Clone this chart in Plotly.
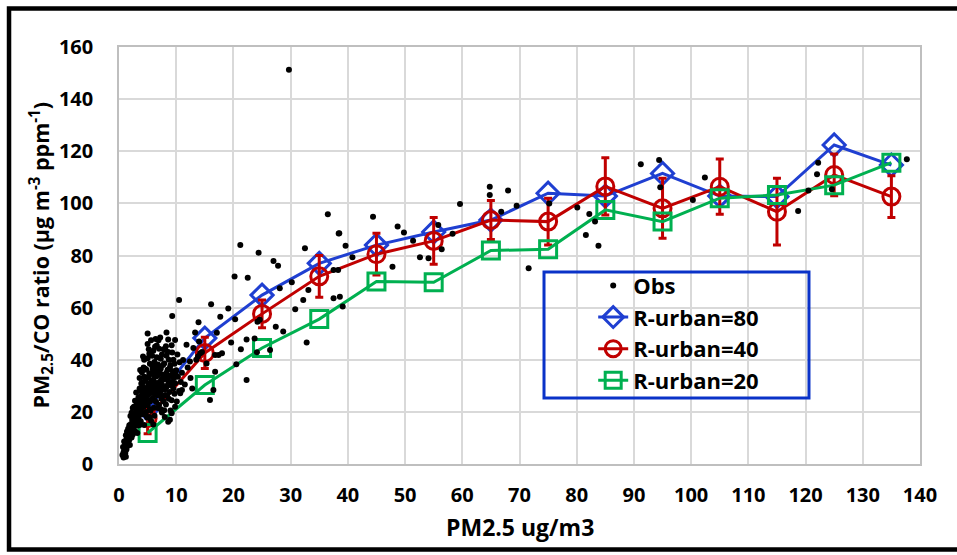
import plotly.graph_objects as go

# ---------------- data ----------------
model_x = [5, 15, 25, 35, 45, 55, 65, 75, 85, 95, 105, 115, 125, 135]
r80 = [21, 48.3, 64.8, 77, 84, 89, 93.6, 103.9, 102.8, 111.5, 102.8, 102.6, 122.4, 114.7]
r40 = [17.6, 42.6, 57.6, 72, 80.5, 85.6, 93.6, 93, 106.5, 98.1, 106.4, 96.8, 110.9, 102.6]
r40_err = [6, 6, 5.3, 8, 8, 9, 7.5, 9, 11, 11.5, 10.6, 12.8, 8, 8]
r20 = [11.9, 30.3, 44.5, 55.6, 70, 69.7, 81.9, 82.4, 97.5, 93, 102, 103.2, 107, 115.6]

obs_x = [
    0.6, 0.8, 0.9, 1.0, 1.1, 1.2, 0.7, 1.3, 1.4, 1.5, 1.0, 1.2, 0.9, 1.4, 1.6,
    1.7, 1.8, 1.9, 2.0, 2.1, 2.2, 2.3, 2.4, 2.5, 1.8, 2.0, 2.2, 2.4, 2.6, 1.9,
    2.7, 2.8, 2.9, 3.0, 3.1, 3.2, 3.3, 3.4, 3.5, 2.8, 3.0, 3.2, 3.4, 3.6, 3.3, 2.9, 3.1, 3.5,
    3.7, 3.8, 3.9, 4.0, 4.1, 4.2, 4.3, 4.4, 4.5, 3.8, 4.0, 4.2, 4.4, 4.6, 3.9, 4.1, 4.3, 4.5, 4.7, 4.8,
    4.9, 5.0, 5.1, 5.2, 5.3, 5.4, 5.5, 4.8, 5.0, 5.2, 5.4, 5.6, 4.9, 5.1, 5.3, 5.5, 5.7, 5.8, 5.0, 5.6,
    5.9, 6.0, 6.1, 6.2, 6.3, 6.4, 6.5, 6.0, 6.2, 6.4, 6.6, 5.9, 6.1, 6.3, 6.5, 6.7, 6.8, 6.0,
    6.9, 7.0, 7.1, 7.2, 7.3, 7.4, 7.5, 7.0, 7.2, 7.4, 7.6, 6.9, 7.1, 7.3, 7.5, 7.7, 7.8,
    7.9, 8.0, 8.1, 8.2, 8.3, 8.4, 8.5, 8.0, 8.2, 8.4, 8.6, 7.9, 8.1, 8.3, 8.7,
    8.8, 8.9, 9.0, 9.1, 9.2, 9.3, 9.4, 9.0, 9.2, 9.5, 8.9, 9.6,
    9.7, 9.8, 10.0, 10.2, 10.3, 10.5, 10.1, 10.6, 10.8, 11.0,
    11.5, 12.0, 12.5, 13.0, 13.5, 14.0, 12.8, 11.8, 13.3, 14.5,
    1.1, 1.3, 1.5, 1.7, 1.9, 2.1, 2.3, 2.5, 2.7, 2.9, 3.1, 3.3, 3.5, 3.7, 3.9, 4.1, 4.3,
    4.5, 4.7, 4.9, 5.1, 5.3, 5.5, 5.7, 5.9, 6.1, 6.3, 6.5, 6.7, 6.9, 7.1, 7.3, 7.5, 7.7,
    7.9, 8.1, 8.3, 8.5, 8.7, 8.9, 9.1, 9.3, 9.5, 9.7, 9.9, 2.6, 3.8, 4.6, 5.2, 5.8, 6.6,
    7.2, 4.4, 3.6, 2.4, 1.6, 6.2, 6.8, 7.6, 5.4, 4.6, 3.6, 7.8, 8.6, 6.4, 5.6, 1.2, 0.8,
    36.5, 38.4, 39.6, 32.5, 21.2, 24.4, 27.0, 27.8, 20.2, 22.5, 10.5, 9.3, 5.0, 16.1, 19.1,
    13.9, 20.3, 28.1, 30.2, 32.2, 33.1, 37.5, 38.6, 39.1, 30.8, 28.7, 32.8, 27.4, 24.6, 24.2,
    22.3, 21.3, 23.7, 24.1, 26.4, 22.3, 20.5, 17.1, 18.0, 16.8, 19.6, 17.7, 8.3, 8.6, 9.8,
    13.8, 14.2, 11.2, 12.4, 16.8, 17.4, 15.3, 16.5, 15.9, 9.2, 9.8, 10.7, 11.0, 8.6, 4.2, 3.7,
    64.8, 64.8, 68.0, 66.8, 69.5, 59.6, 58.3, 56.4, 55.8, 54.1, 52.6, 49.8, 48.7, 51.4, 44.4,
    38.5, 40.8, 47.8, 37.5, 38.3, 71.6, 75.2, 80.1, 82.2, 83.2, 81.6, 83.8, 91.2, 94.4,
    94.6, 102.4, 100.3, 118.7, 120.5, 122.0, 122.2, 124.6, 137.7, 29.7,
]
obs_y = [
    3.5, 4.5, 6.0, 5.0, 7.5, 8.0, 6.5, 9.5, 6.8, 10.5, 3.2, 11.0, 8.6, 12.5, 8.2,
    11.6, 9.4, 13.8, 12.1, 15.3, 10.2, 17.0, 13.5, 16.2, 14.9, 18.4, 19.7, 11.3, 14.4, 7.3,
    18.8, 12.7, 21.3, 16.7, 23.6, 19.2, 14.8, 25.5, 21.0, 24.3, 27.4, 11.9, 17.6, 29.0, 22.5, 15.5, 20.2, 18.6,
    24.4, 16.4, 27.9, 21.8, 31.3, 19.1, 26.0, 33.5, 23.3, 20.6, 35.2, 29.6, 15.0, 27.4, 30.9, 24.9, 37.0, 31.8, 20.0, 25.6,
    29.0, 22.5, 33.3, 26.8, 18.0, 38.5, 30.6, 36.2, 40.6, 31.0, 24.0, 34.9, 17.8, 27.6, 42.3, 20.4, 28.8, 37.7, 46.0, 16.6,
    25.2, 32.0, 21.6, 39.1, 28.0, 35.4, 23.8, 43.5, 18.5, 30.5, 41.0, 36.5, 27.1, 45.0, 33.6, 26.4, 38.2, 15.2,
    30.0, 22.6, 35.8, 27.5, 40.4, 32.4, 19.8, 44.2, 37.0, 25.0, 29.2, 47.5, 31.5, 21.0, 42.0, 34.2, 24.0,
    38.6, 28.6, 33.0, 22.8, 41.5, 30.0, 36.2, 18.0, 45.2, 26.2, 31.8, 20.6, 43.7, 35.0, 40.0,
    27.6, 33.8, 38.0, 30.2, 24.5, 42.8, 35.6, 20.5, 45.6, 29.0, 17.0, 33.0,
    38.5, 31.0, 36.0, 42.0, 33.5, 28.0, 24.0, 39.0, 31.5, 35.0,
    30.5, 37.0, 33.0, 44.5, 40.0, 47.0, 29.0, 45.8, 50.5, 43.0,
    4.2, 5.6, 7.0, 9.0, 10.5, 12.8, 14.2, 12.0, 15.8, 18.0, 17.2, 19.8, 23.5, 20.8, 22.8, 27.0, 22.0,
    28.6, 32.8, 25.0, 30.0, 34.5, 27.2, 32.0, 29.5, 34.0, 31.2, 37.5, 29.0, 34.2, 28.0, 36.5, 30.5, 38.0,
    32.5, 26.5, 29.5, 33.2, 25.0, 37.0, 34.0, 31.5, 40.0, 27.0, 34.5, 22.0, 26.0, 36.5, 44.0, 41.5, 45.5,
    48.5, 40.0, 33.0, 21.5, 13.5, 24.5, 21.5, 26.0, 21.0, 19.0, 15.0, 44.0, 43.0, 48.0, 47.5, 2.8, 2.5,
    95.8, 88.4, 83.7, 82.8, 84.0, 81.1, 77.9, 76.1, 71.9, 71.5, 62.9, 56.8, 50.1, 61.3, 59.7,
    54.4, 55.5, 67.4, 69.7, 62.9, 66.8, 63.6, 64.2, 60.4, 59.4, 50.8, 46.6, 52.7, 55.3, 54.6,
    47.8, 44.0, 48.2, 42.9, 43.7, 32.2, 38.3, 50.4, 42.5, 35.4, 46.6, 56.5, 50.5, 47.8, 47.6,
    41.2, 42.5, 39.9, 39.3, 41.8, 41.8, 38.6, 28.4, 24.6, 19.5, 22.0, 27.1, 28.4, 16.2, 41.2, 36.1,
    106.4, 103.2, 104.9, 96.8, 99.1, 99.8, 88.3, 82.4, 91.7, 78.9, 79.3, 88.8, 91.1, 85.7, 94.9,
    88.5, 79.3, 75.7, 74.4, 74.4, 75.1, 100.0, 98.4, 95.9, 93.0, 87.9, 83.7, 115.0, 116.6,
    106.2, 109.9, 101.3, 97.1, 104.9, 111.2, 115.6, 105.4, 116.9, 151.3,
]

x_ticks = list(range(0, 141, 10))
y_ticks = list(range(0, 161, 20))

# ---------------- styles ----------------
BLUE = "#1f3fd1"
RED = "#c00000"
GREEN = "#00b050"
FONT = "Open Sans"

fig = go.Figure()

fig.add_trace(go.Scatter(
    x=model_x, y=r80, name="R-urban=80", mode="lines+markers", legendrank=2,
    line=dict(color=BLUE, width=3),
    marker=dict(symbol="diamond-open", size=17, color=BLUE, line=dict(width=3, color=BLUE)),
))
fig.add_trace(go.Scatter(
    x=model_x, y=r40, name="R-urban=40", mode="lines+markers", legendrank=3,
    line=dict(color=RED, width=3),
    marker=dict(symbol="circle-open", size=17, color=RED, line=dict(width=3, color=RED)),
    error_y=dict(type="data", array=r40_err, visible=True, color=RED, thickness=3, width=4),
))
fig.add_trace(go.Scatter(
    x=model_x, y=r20, name="R-urban=20", mode="lines+markers", legendrank=4,
    line=dict(color=GREEN, width=3),
    marker=dict(symbol="square-open", size=17, color=GREEN, line=dict(width=3, color=GREEN)),
))
fig.add_trace(go.Scatter(
    x=obs_x, y=obs_y, name="Obs", mode="markers", legendrank=1,
    marker=dict(symbol="circle", size=6, color="black"),
))

axis_common = dict(
    showgrid=True, gridcolor="#d9d9d9", gridwidth=1.5,
    showline=True, linecolor="#bfbfbf", linewidth=1.5, mirror=True,
    zeroline=False, ticks="",
    tickfont=dict(family=FONT, size=20, color="black", weight=700),
)

fig.update_layout(
    width=957, height=555, autosize=False,
    margin=dict(l=119, r=37, t=47, b=91),
    paper_bgcolor="white", plot_bgcolor="white",
    xaxis=dict(range=[0, 140], tickvals=x_ticks, ticklabelstandoff=12, **axis_common),
    yaxis=dict(range=[0, 160], tickvals=y_ticks, ticklabelstandoff=20, **axis_common),
    showlegend=True,
    legend=dict(
        x=0.592, y=0.478, xanchor="left", yanchor="top",
        bgcolor="rgba(0,0,0,0)", borderwidth=0,
        font=dict(family=FONT, size=22, color="black", weight=700),
        tracegroupgap=0,
    ),
    annotations=[
        dict(text="PM2.5 ug/m3", xref="paper", yref="paper", x=0.5, y=-0.151,
             xanchor="center", yanchor="middle", showarrow=False,
             font=dict(family=FONT, size=23, color="black", weight=700)),
        dict(text="PM<sub>2.5</sub>/CO ratio (µg m<sup>-3</sup> ppm<sup>-1</sup>)",
             xref="paper", yref="paper", x=-0.0986, y=0.5, textangle=-90,
             xanchor="center", yanchor="middle", showarrow=False,
             font=dict(family=FONT, size=21.5, color="black", weight=700)),
    ],
    shapes=[
        # legend box
        dict(type="rect", xref="paper", yref="paper", x0=0.5306, x1=0.8614, y0=0.1583, y1=0.4604,
             line=dict(color="#0a32c8", width=3), fillcolor="rgba(0,0,0,0)", layer="above"),
        # outer black frame
        dict(type="rect", xref="paper", yref="paper", x0=-0.1373, x1=1.07, y0=-0.2050, y1=1.0923,
             line=dict(color="black", width=4.5), fillcolor="rgba(0,0,0,0)", layer="above"),
    ],
)

fig.write_html(
    "out.html",
    config={"displayModeBar": False},
    post_script="document.body.style.margin='0';document.body.style.overflow='hidden';",
)
